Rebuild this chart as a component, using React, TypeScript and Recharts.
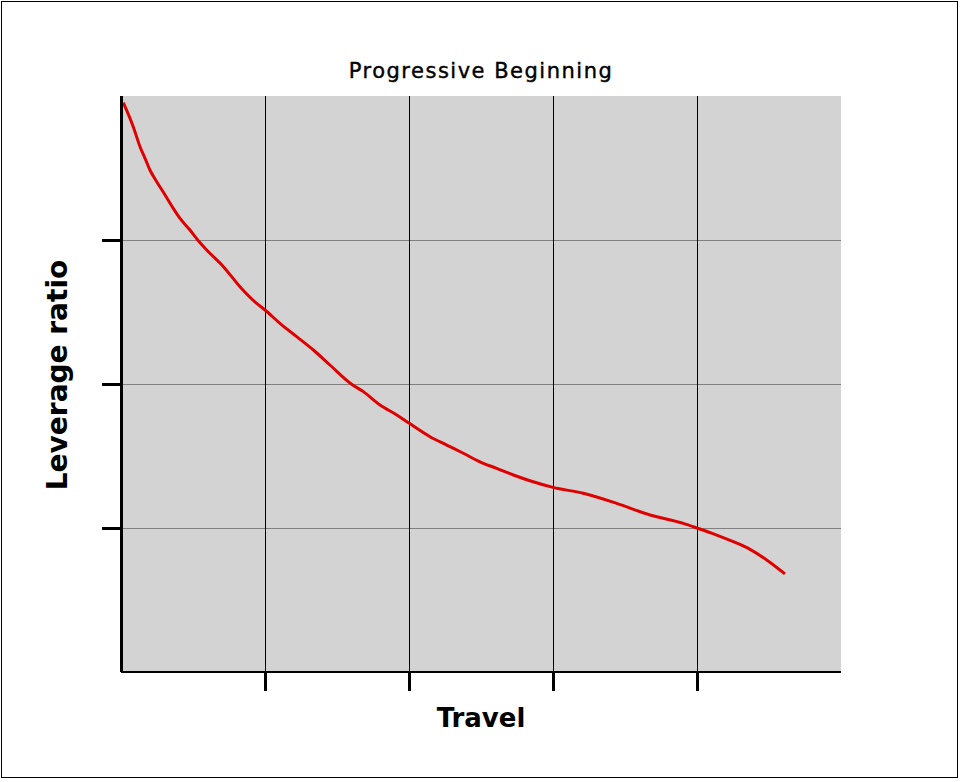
import React from "react";
import { LineChart, Line, XAxis, YAxis, CartesianGrid } from "recharts";

const travel = [
  0.016, 0.085, 0.132, 0.167, 0.201, 0.248, 0.306, 0.363, 0.41, 0.479, 0.537, 0.595, 0.711, 0.826, 0.942, 1.0,
  1.104, 1.22, 1.336, 1.451, 1.602, 1.683, 1.799, 1.915, 2.002, 2.146, 2.262, 2.377, 2.493, 2.609, 2.725, 2.84,
  3.0, 3.21, 3.442, 3.674, 3.905, 4.0, 4.137, 4.252, 4.368, 4.484, 4.611,
];
const leverage = [
  3.954, 3.787, 3.648, 3.567, 3.486, 3.405, 3.313, 3.22, 3.15, 3.069, 2.995, 2.931, 2.815, 2.676, 2.56, 2.514,
  2.421, 2.329, 2.236, 2.132, 1.998, 1.947, 1.854, 1.785, 1.727, 1.634, 1.576, 1.519, 1.46, 1.414, 1.368, 1.328,
  1.282, 1.241, 1.171, 1.09, 1.032, 1.0, 0.951, 0.905, 0.852, 0.778, 0.681,
];
const xTicks = [1, 2, 3, 4];
const yTicks = [1, 2, 3];

const data = travel.map((t, i) => ({ travel: t, leverage: leverage[i] }));

const FONT = "'DejaVu Sans', Verdana, sans-serif";

export default function App() {
  return (
    <div style={{ position: "absolute", left: 0, top: 0, width: 962, height: 782, background: "#fff" }}>
      <div
        style={{
          position: "absolute",
          left: 1,
          top: 1,
          width: 957,
          height: 777,
          border: "1px solid #000",
          boxSizing: "border-box",
        }}
      />
      <div
        style={{
          position: "absolute",
          left: 0,
          top: 59,
          width: 962,
          textAlign: "center",
          fontFamily: FONT,
          fontSize: 21,
          letterSpacing: 1.5,
          color: "#000",
          WebkitTextStroke: "0.4px #000",
        }}
      >
        Progressive Beginning
      </div>
      <div style={{ position: "absolute", left: 0, top: 0 }}>
        <LineChart width={962} height={782} data={data} margin={{ top: 96, right: 121, bottom: 90, left: 101 }}>
          <CartesianGrid
            horizontal={true}
            vertical={false}
            fill="#d3d3d3"
            stroke="#808080"
            strokeWidth={1}
            horizontalValues={yTicks}
            shapeRendering="crispEdges"
          />
          <CartesianGrid
            horizontal={false}
            vertical={true}
            stroke="#000"
            strokeWidth={1}
            verticalValues={xTicks}
            shapeRendering="crispEdges"
          />
          <XAxis
            type="number"
            dataKey="travel"
            domain={[0, 5]}
            ticks={xTicks}
            height={20}
            tickSize={19}
            tickFormatter={() => ""}
            axisLine={{ stroke: "#000", strokeWidth: 2, shapeRendering: "crispEdges" }}
            tickLine={{ stroke: "#000", strokeWidth: 3, shapeRendering: "crispEdges" }}
          />
          <YAxis
            type="number"
            domain={[0, 4]}
            ticks={yTicks}
            width={20}
            tickSize={19}
            tickFormatter={() => ""}
            axisLine={{ stroke: "#000", strokeWidth: 3, shapeRendering: "crispEdges" }}
            tickLine={{ stroke: "#000", strokeWidth: 3, shapeRendering: "crispEdges" }}
          />
          <Line
            dataKey="leverage"
            type="monotone"
            stroke="#e00000"
            strokeWidth={3}
            dot={false}
            isAnimationActive={false}
          />
        </LineChart>
      </div>
      <div
        style={{
          position: "absolute",
          left: 0,
          top: 703,
          width: 962,
          textAlign: "center",
          fontFamily: FONT,
          fontSize: 26,
          fontWeight: "bold",
          color: "#000",
        }}
      >
        Travel
      </div>
      <div
        style={{
          position: "absolute",
          left: 57,
          top: 375,
          transform: "translate(-50%, -50%) rotate(-90deg)",
          whiteSpace: "nowrap",
          fontFamily: FONT,
          fontSize: 28,
          fontWeight: "bold",
          color: "#000",
        }}
      >
        Leverage ratio
      </div>
    </div>
  );
}
